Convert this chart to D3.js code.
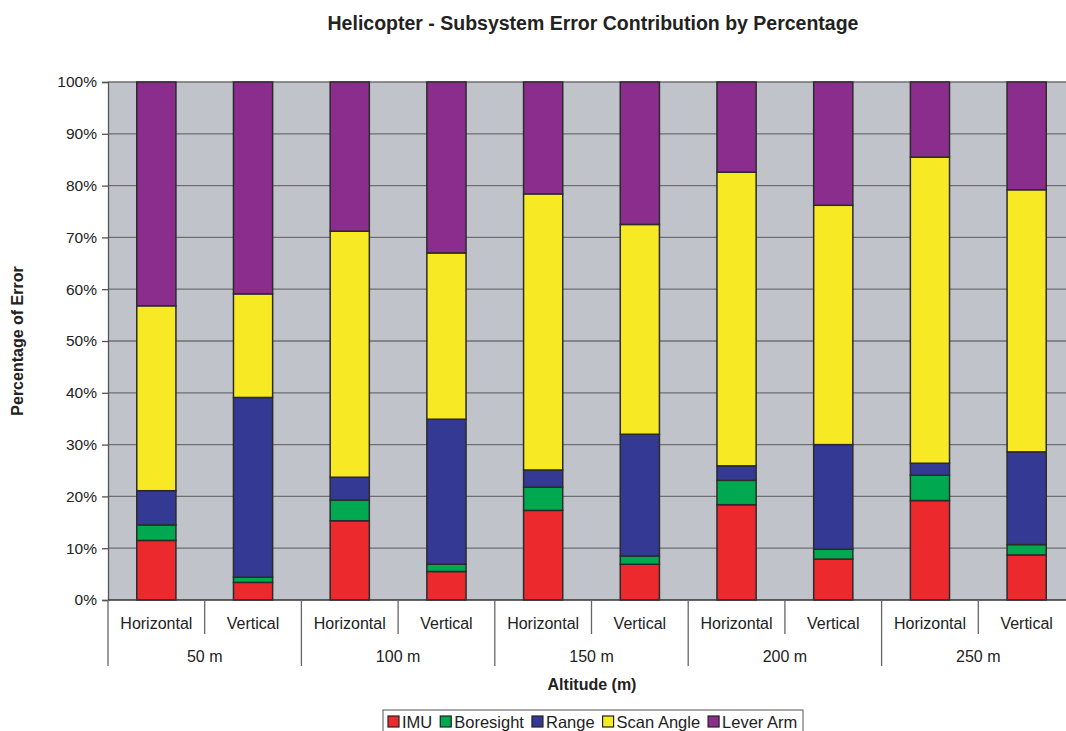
<!DOCTYPE html>
<html>
<head>
<meta charset="utf-8">
<script src="https://cdn.jsdelivr.net/npm/d3@7"></script>
<style>
  body { margin: 0; background: #fff; }
  text { font-family: "Liberation Sans", Arial, sans-serif; fill: #222; }
</style>
</head>
<body>
<svg id="chart" width="1066" height="731"></svg>
<script>
// Altitude groups and flight-direction sub-categories
const altitudes = ["50 m", "100 m", "150 m", "200 m", "250 m"];
const directions = ["Horizontal", "Vertical"];
const subsystems = ["IMU", "Boresight", "Range", "Scan Angle", "Lever Arm"];
const colors = ["#ec2a2e", "#00a94f", "#343a93", "#f7ea24", "#8b2d8c"];

// Percentage contribution per bar (order: 50H, 50V, 100H, 100V, ... 250V)
const imu       = [11.5, 3.4, 15.3, 5.5, 17.3, 6.9, 18.4, 7.9, 19.2, 8.7];
const boresight = [3.0, 1.0, 4.0, 1.4, 4.5, 1.6, 4.7, 1.9, 4.9, 2.0];
const range     = [6.6, 34.7, 4.4, 28.0, 3.3, 23.5, 2.8, 20.2, 2.3, 17.9];
const scanAngle = [35.7, 20.0, 47.5, 32.1, 53.3, 40.5, 56.7, 46.2, 59.1, 50.6];
const leverArm  = [43.2, 40.9, 28.8, 33.0, 21.6, 27.5, 17.4, 23.8, 14.5, 20.8];

const yTicks = [0, 10, 20, 30, 40, 50, 60, 70, 80, 90, 100];

const svg = d3.select("#chart");
const margin = { left: 108, right: 1075, top: 82, bottom: 600 };

const bars = [];
altitudes.forEach((a, gi) => directions.forEach((d, di) => {
  const i = gi * 2 + di;
  bars.push({ key: a + "|" + d, alt: a, dir: d,
    values: [imu[i], boresight[i], range[i], scanAngle[i], leverArm[i]] });
}));

const x = d3.scaleBand().domain(bars.map(b => b.key))
  .range([margin.left, margin.right]).paddingInner(0).paddingOuter(0);
const y = d3.scaleLinear().domain([0, 100]).range([margin.bottom, margin.top]);

// Plot background
svg.append("rect")
  .attr("x", margin.left).attr("y", margin.top)
  .attr("width", margin.right - margin.left)
  .attr("height", margin.bottom - margin.top)
  .attr("fill", "#c0c3ca");

// Horizontal gridlines
svg.append("g").selectAll("line").data(yTicks.filter(t => t > 0)).join("line")
  .attr("x1", margin.left).attr("x2", margin.right)
  .attr("y1", d => y(d)).attr("y2", d => y(d))
  .attr("stroke", "#6f6f72").attr("stroke-width", 1.3);

// Y axis
const yAxis = svg.append("g").attr("transform", `translate(${margin.left},0)`)
  .call(d3.axisLeft(y).tickValues(yTicks).tickFormat(d => d + "%").tickSize(6).tickPadding(5));
yAxis.select(".domain").attr("stroke", "#555").attr("stroke-width", 1.3);
yAxis.selectAll(".tick line").attr("stroke", "#555").attr("stroke-width", 1.3);
yAxis.selectAll("text").style("font-size", "15.5px").attr("fill", "#222");

// Stacked bars
const barW = x.bandwidth() * 0.405;
bars.forEach(b => {
  let acc = 0;
  const segs = b.values.map((v, k) => { const s = { y0: acc, y1: acc + v, k }; acc += v; return s; });
  svg.append("g").selectAll("rect").data(segs).join("rect")
    .attr("x", x(b.key) + (x.bandwidth() - barW) / 2)
    .attr("width", barW)
    .attr("y", s => y(s.y1))
    .attr("height", s => y(s.y0) - y(s.y1))
    .attr("fill", s => colors[s.k])
    .attr("stroke", "#2b2b2b").attr("stroke-width", 1.5);
});

// X axis baseline
svg.append("line")
  .attr("x1", margin.left).attr("x2", margin.right)
  .attr("y1", y(0)).attr("y2", y(0))
  .attr("stroke", "#333").attr("stroke-width", 1.3);

// Category separators: short between directions, long between altitudes
const bounds = d3.range(bars.length + 1).map(i => margin.left + i * x.step());
svg.append("g").selectAll("line").data(bounds).join("line")
  .attr("x1", d => d).attr("x2", d => d)
  .attr("y1", y(0))
  .attr("y2", (d, i) => i % 2 === 0 ? 666 : 634)
  .attr("stroke", "#666").attr("stroke-width", 1.3);

// Direction labels
svg.append("g").selectAll("text").data(bars).join("text")
  .attr("x", b => x(b.key) + x.bandwidth() / 2)
  .attr("y", 629)
  .attr("text-anchor", "middle")
  .style("font-size", "16px")
  .text(b => b.dir);

// Altitude labels
svg.append("g").selectAll("text").data(altitudes).join("text")
  .attr("x", (a, i) => margin.left + (i * 2 + 1) * x.step())
  .attr("y", 662)
  .attr("text-anchor", "middle")
  .style("font-size", "16px")
  .text(a => a);

// Title and axis titles
svg.append("text").attr("x", 593).attr("y", 30).attr("text-anchor", "middle")
  .style("font-size", "19.5px").style("font-weight", "bold")
  .text("Helicopter - Subsystem Error Contribution by Percentage");
svg.append("text").attr("x", 592).attr("y", 690).attr("text-anchor", "middle")
  .style("font-size", "16px").style("font-weight", "bold")
  .text("Altitude (m)");
svg.append("text")
  .attr("transform", `translate(23,${(margin.top + margin.bottom) / 2}) rotate(-90)`)
  .attr("text-anchor", "middle")
  .style("font-size", "16px").style("font-weight", "bold")
  .text("Percentage of Error");

// Legend
const legend = svg.append("g");
legend.append("rect").attr("x", 383).attr("y", 710).attr("width", 420).attr("height", 30)
  .attr("fill", "#fff").attr("stroke", "#555").attr("stroke-width", 1);
let lx = 388;
subsystems.forEach((s, i) => {
  legend.append("rect").attr("x", lx).attr("y", 716).attr("width", 11).attr("height", 11)
    .attr("fill", colors[i]).attr("stroke", "#222").attr("stroke-width", 1.2);
  const t = legend.append("text").attr("x", lx + 14).attr("y", 728)
    .style("font-size", "16.5px").text(s);
  lx += 14 + t.node().getComputedTextLength() + 8;
});
</script>
</body>
</html>
